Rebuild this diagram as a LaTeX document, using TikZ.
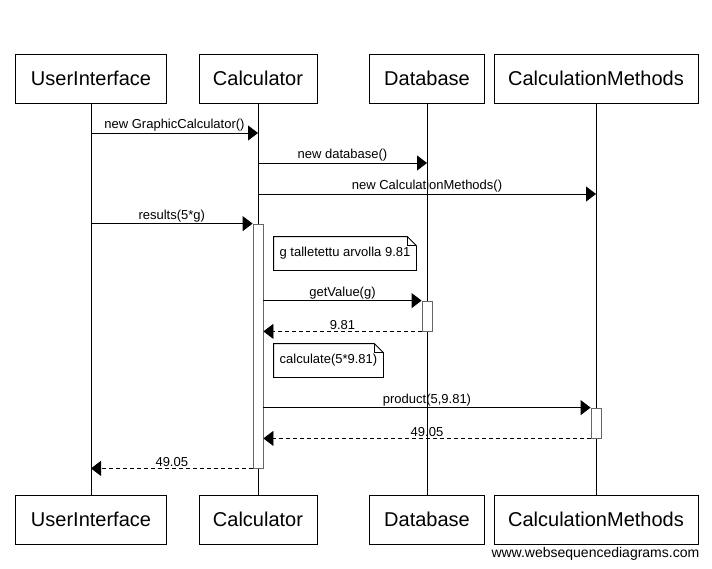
\documentclass[tikz,border=0pt]{standalone}
\usepackage{fontspec}
\setmainfont{Liberation Sans}
\usetikzlibrary{arrows.meta}

\begin{document}
\begin{tikzpicture}[x=1pt, y=-1pt, line width=0.8pt,
    actor/.style={draw, rectangle, fill=white, minimum height=49pt, inner sep=0pt, font=\fontsize{20}{24}\selectfont},
    act/.style={draw=black!60, rectangle, fill=white, minimum width=10pt, inner sep=0pt},
    msg/.style={-{Triangle[length=10pt,width=15pt]}},
    reply/.style={msg, dash pattern=on 4pt off 3pt},
    lbl/.style={above, inner sep=1.5pt, font=\fontsize{13}{15}\selectfont},
    note/.style={rectangle, minimum height=33pt, inner sep=0pt, font=\fontsize{13}{15}\selectfont}]
    \useasboundingbox (0,0) rectangle (712,568);

    % participants
    \node[actor, minimum width=151pt] (ui) at (91,78.5) {UserInterface};
    \node[actor, minimum width=118pt] (calc) at (258,78.5) {Calculator};
    \node[actor, minimum width=115pt] (db) at (427,78.5) {Database};
    \node[actor, minimum width=204pt] (methods) at (596,78.5) {CalculationMethods};
    \node[actor, minimum width=151pt] (ui2) at (91,519.5) {UserInterface};
    \node[actor, minimum width=118pt] (calc2) at (258,519.5) {Calculator};
    \node[actor, minimum width=115pt] (db2) at (427,519.5) {Database};
    \node[actor, minimum width=204pt] (methods2) at (596,519.5) {CalculationMethods};

    % lifelines
    \foreach \p in {ui,calc,db,methods}
        \draw (\p) -- (\p2);

    % activations
    \node[act, minimum height=244pt] (calcAct) at (258,346) {};
    \node[act, minimum height=30pt] (dbAct) at (427,316) {};
    \node[act, minimum height=30pt] (methodsAct) at (596,423) {};

    % notes
    \node[note, minimum width=142pt] (note1) at (345,253.5) {g talletettu arvolla 9.81};
    \node[note, minimum width=109pt] (note2) at (328.5,360.5) {calculate(5*9.81)};
    \foreach \n in {note1,note2} {
        \draw (\n.north west) -- ([xshift=-9pt]\n.north east) -- ([yshift=-9pt]\n.north east) -- (\n.south east) -- (\n.south west) -- cycle;
        \draw ([xshift=-9pt]\n.north east) -- ([xshift=-9pt,yshift=-9pt]\n.north east) -- ([yshift=-9pt]\n.north east);
    }

    % messages
    \draw[msg] (ui |- 0,133) -- node[lbl] {new GraphicCalculator()} (calc |- 0,133);
    \draw[msg] (calc |- 0,163) -- node[lbl] {new database()} (db |- 0,163);
    \draw[msg] (calc |- 0,194) -- node[lbl] {new CalculationMethods()} (methods |- 0,194);
    \draw[msg] (ui |- calcAct.north) -- node[lbl] {results(5*g)} (calcAct.north west);
    \draw[msg] (calcAct.east |- dbAct.north) -- node[lbl] {getValue(g)} (dbAct.north west);
    \draw[reply] (dbAct.south west) -- node[lbl] {9.81} (calcAct.east |- dbAct.south);
    \draw[msg] (calcAct.east |- methodsAct.north) -- node[lbl] {product(5,9.81)} (methodsAct.north west);
    \draw[reply] (methodsAct.south west) -- node[lbl] {49.05} (calcAct.east |- methodsAct.south);
    \draw[reply] (calcAct.south west) -- node[lbl] {49.05} (ui |- calcAct.south);

    \node[anchor=base east, font=\fontsize{14}{16}\selectfont] (credit) at (703,557) {www.websequencediagrams.com};
\end{tikzpicture}
\end{document}
